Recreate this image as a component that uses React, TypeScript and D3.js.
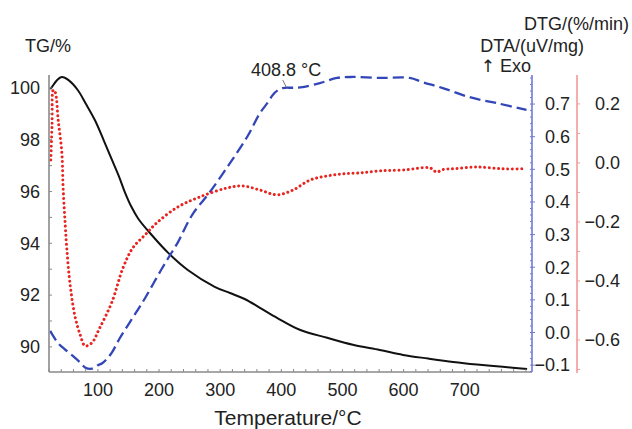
import React from "react";
import * as d3 from "d3";

// ---- Data ----
const tgTemp = [22, 25, 33, 41, 52, 67, 80, 95, 110, 123, 135, 144, 155, 166, 188, 215, 247, 291, 316, 340, 365, 393, 430, 475, 517, 561, 599, 640, 681, 720, 762, 802];
const tgValue = [99.95, 100.04, 100.3, 100.42, 100.3, 99.92, 99.4, 98.76, 97.95, 97.22, 96.55, 95.98, 95.4, 94.95, 94.32, 93.63, 92.97, 92.32, 92.08, 91.85, 91.51, 91.12, 90.66, 90.35, 90.08, 89.88, 89.69, 89.55, 89.42, 89.32, 89.23, 89.15];

const dtaTemp = [22, 25, 35, 45, 58, 70, 79, 90, 100, 107, 115, 123, 135, 149, 163, 177, 191, 205, 218, 231, 254, 283, 316, 344, 365, 378, 386, 394, 402, 420, 435, 463, 491, 517, 561, 610, 631, 664, 708, 752, 801];
const dtaValue = [0.005, -0.005, -0.033, -0.05, -0.07, -0.09, -0.107, -0.111, -0.1, -0.094, -0.08, -0.061, -0.02, 0.022, 0.063, 0.105, 0.151, 0.197, 0.237, 0.277, 0.36, 0.43, 0.519, 0.599, 0.672, 0.705, 0.728, 0.742, 0.749, 0.75, 0.752, 0.764, 0.78, 0.783, 0.78, 0.78, 0.767, 0.749, 0.721, 0.703, 0.682];

const dtgTemp = [23, 25, 27, 30, 35, 41, 43, 46, 49, 54, 62, 71, 79, 90, 103, 123, 141, 157, 177, 198, 231, 267, 311, 337, 365, 393, 419, 447, 475, 501, 528, 561, 599, 643, 654, 665, 681, 720, 762, 795, 800];
const dtgValue = [0.01, 0.13, 0.247, 0.241, 0.146, 0.034, -0.081, -0.193, -0.288, -0.403, -0.515, -0.583, -0.62, -0.61, -0.559, -0.471, -0.356, -0.288, -0.244, -0.2, -0.149, -0.115, -0.085, -0.078, -0.092, -0.108, -0.092, -0.058, -0.044, -0.037, -0.034, -0.027, -0.024, -0.017, -0.031, -0.022, -0.02, -0.014, -0.02, -0.02, -0.02];

const xTickLabels = [100, 200, 300, 400, 500, 600, 700];
const tgTickLabels = [90, 92, 94, 96, 98, 100];
const dtaTickLabels = [-0.1, 0, 0.1, 0.2, 0.3, 0.4, 0.5, 0.6, 0.7];
const dtgTickLabels = [-0.6, -0.4, -0.2, 0, 0.2];
const peakTemp = 408.8;

const FONT = "'Liberation Sans', Arial, Helvetica, sans-serif";

export default function App() {
  const W = 632, H = 429;
  const left = 49, right = 532, top = 75, bottom = 372;
  const redAxisX = 577;

  const x = d3.scaleLinear().domain([20, 810]).range([left, right]);
  const yTG = d3.scaleLinear().domain([89.03, 100.5]).range([bottom, top]);
  const yDTA = d3.scaleLinear().domain([-0.121, 0.789]).range([bottom, top]);
  const yDTG = d3.scaleLinear().domain([-0.712, 0.298]).range([373, top]);

  const tgPts: [number, number][] = tgTemp.map((t, i) => [x(t), yTG(tgValue[i])]);
  const dtaPts: [number, number][] = dtaTemp.map((t, i) => [x(t), yDTA(dtaValue[i])]);
  const dtgPts: [number, number][] = dtgTemp.map((t, i) => [x(t), yDTG(dtgValue[i])]);

  const lineCR = d3.line().curve(d3.curveCatmullRom.alpha(0.5));

  const fmt = (v: number) => (v < 0 ? "\u2212" : "") + Math.abs(v).toFixed(1);

  const xMinor = d3.range(20, 811, 20);
  const tgMinor = d3.range(90, 101, 1);
  const dtaMinor = d3.range(-0.12, 0.79, 0.02);
  const dtgMinor = d3.range(-0.7, 0.3, 0.1);

  const peakX = x(peakTemp);
  const peakY = yDTA(0.749);
  const FS = 18;

  return (
    <svg width={W} height={H} style={{ display: "block", position: "absolute", left: 0, top: 0, background: "#fff" }} fontFamily={FONT}>
      {/* curves */}
      <path d={lineCR(tgPts) || ""} fill="none" stroke="#111" strokeWidth={2} />
      <path d={lineCR(dtaPts) || ""} fill="none" stroke="#3346b8" strokeWidth={2.3} strokeDasharray="11 5" />
      <path d={lineCR(dtgPts) || ""} fill="none" stroke="#e8241f" strokeWidth={3} strokeDasharray="0.01 4.6" strokeLinecap="round" />

      {/* left axis */}
      <line x1={left} x2={left} y1={top} y2={bottom} stroke="#8a8a8a" strokeWidth={1.6} />
      {tgMinor.map((v) => (
        <line key={"tgm" + v} x1={left} x2={left + 3} y1={yTG(v)} y2={yTG(v)} stroke="#8a8a8a" strokeWidth={1} />
      ))}
      {tgTickLabels.map((v) => (
        <text key={"tgl" + v} x={40} y={yTG(v)} dy="0.35em" textAnchor="end" fontSize={FS} fill="#222">{v}</text>
      ))}

      {/* bottom axis */}
      <line x1={left} x2={right} y1={bottom} y2={bottom} stroke="#8a8a8a" strokeWidth={1.6} />
      {xMinor.map((v) => (
        <line key={"xm" + v} x1={x(v)} x2={x(v)} y1={bottom} y2={bottom - 3} stroke="#8a8a8a" strokeWidth={1} />
      ))}
      {xTickLabels.map((v) => (
        <text key={"xl" + v} x={x(v)} y={396} textAnchor="middle" fontSize={FS} fill="#222">{v}</text>
      ))}

      {/* DTA axis (blue) */}
      <line x1={right} x2={right} y1={top} y2={bottom} stroke="#6f7ad6" strokeWidth={1.6} />
      {dtaMinor.map((v, i) => (
        <line key={"dm" + i} x1={right - 2} x2={right} y1={yDTA(v)} y2={yDTA(v)} stroke="#6f7ad6" strokeWidth={1} />
      ))}
      {dtaTickLabels.map((v) => (
        <g key={"dl" + v}>
          <line x1={right} x2={right + 3} y1={yDTA(v)} y2={yDTA(v)} stroke="#6f7ad6" strokeWidth={1} />
          <text x={570} y={yDTA(v)} dy="0.35em" textAnchor="end" fontSize={FS} fill="#222">{fmt(v)}</text>
        </g>
      ))}

      {/* DTG axis (red) */}
      <line x1={redAxisX} x2={redAxisX} y1={top} y2={373} stroke="#f29a9a" strokeWidth={1.6} />
      {dtgMinor.map((v, i) => (
        <line key={"gm" + i} x1={redAxisX} x2={redAxisX + 3} y1={yDTG(v)} y2={yDTG(v)} stroke="#f29a9a" strokeWidth={1} />
      ))}
      {dtgTickLabels.map((v) => (
        <text key={"gl" + v} x={620} y={yDTG(v)} dy="0.35em" textAnchor="end" fontSize={FS} fill="#222">{fmt(v)}</text>
      ))}

      {/* titles */}
      <text x={25} y={52} fontSize={FS} fill="#222">TG/%</text>
      <text x={629} y={30} textAnchor="end" fontSize={FS} fill="#222">DTG/(%/min)</text>
      <text x={584} y={52} textAnchor="end" fontSize={FS} fill="#222">DTA/(uV/mg)</text>
      <text x={531} y={72} textAnchor="end" fontSize={FS} fill="#222">
        <tspan fontFamily="'DejaVu Sans', sans-serif" fontSize={17}>{"\u2191"}</tspan>{" Exo"}
      </text>
      <text x={288} y={425} textAnchor="middle" fontSize={21} fill="#222">Temperature/°C</text>

      {/* annotation */}
      <text x={251} y={76} fontSize={FS} fill="#222">{peakTemp} °C</text>
      <line x1={peakX - 4} x2={peakX} y1={peakY - 8} y2={peakY} stroke="#555" strokeWidth={0.8} />
    </svg>
  );
}
